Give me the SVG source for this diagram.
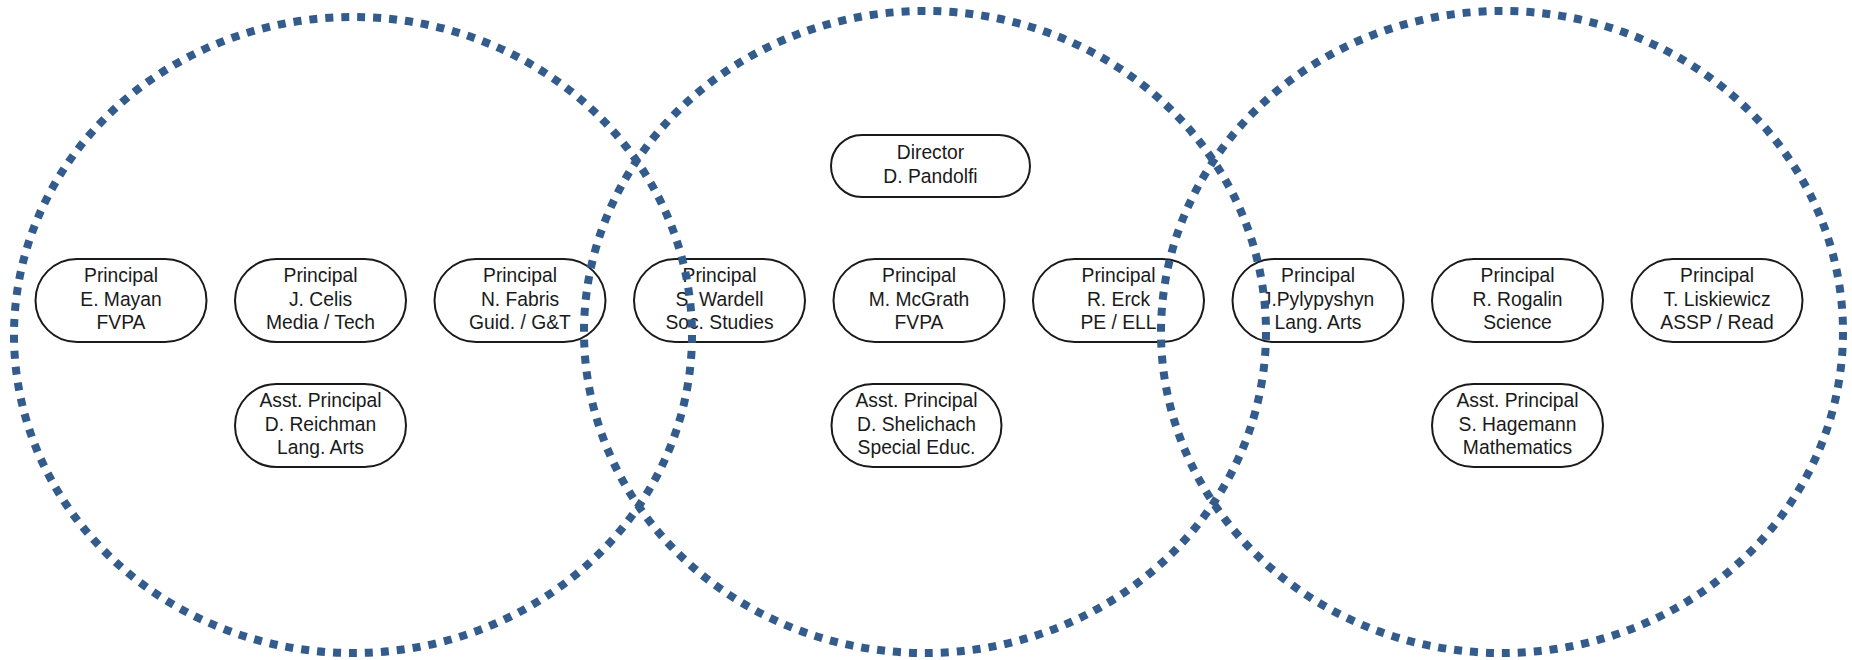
<svg xmlns="http://www.w3.org/2000/svg" width="1852" height="660" viewBox="0 0 1852 660">
<style>
.node rect{fill:none;stroke:#1a1a1a;stroke-width:2}
.node text{font-family:"Liberation Sans",Arial,sans-serif;font-size:19.3px;fill:#1a1a1a;text-anchor:middle}
.ring{fill:none;stroke:#335c8c;stroke-width:8;stroke-dasharray:8 8}
</style>
<rect width="1852" height="660" fill="#ffffff"/>
<g id="nodes">
<g id="director" class="node"><rect x="831" y="135" width="199" height="62" rx="31" ry="31"/><text x="930.5" y="159.3">Director</text><text x="930.5" y="182.8">D. Pandolfi</text></g>
<g id="mayan" class="node"><rect x="35.5" y="259" width="171" height="83" rx="41.5" ry="41.5"/><text x="121" y="282">Principal</text><text x="121" y="305.5">E. Mayan</text><text x="121" y="329">FVPA</text></g>
<g id="celis" class="node"><rect x="235" y="259" width="171" height="83" rx="41.5" ry="41.5"/><text x="320.5" y="282">Principal</text><text x="320.5" y="305.5">J. Celis</text><text x="320.5" y="329">Media / Tech</text></g>
<g id="fabris" class="node"><rect x="434.5" y="259" width="171" height="83" rx="41.5" ry="41.5"/><text x="520" y="282">Principal</text><text x="520" y="305.5">N. Fabris</text><text x="520" y="329">Guid. / G&amp;T</text></g>
<g id="wardell" class="node"><rect x="634" y="259" width="171" height="83" rx="41.5" ry="41.5"/><text x="719.5" y="282">Principal</text><text x="719.5" y="305.5">S. Wardell</text><text x="719.5" y="329">Soc. Studies</text></g>
<g id="mcgrath" class="node"><rect x="833.5" y="259" width="171" height="83" rx="41.5" ry="41.5"/><text x="919" y="282">Principal</text><text x="919" y="305.5">M. McGrath</text><text x="919" y="329">FVPA</text></g>
<g id="erck" class="node"><rect x="1033" y="259" width="171" height="83" rx="41.5" ry="41.5"/><text x="1118.5" y="282">Principal</text><text x="1118.5" y="305.5">R. Erck</text><text x="1118.5" y="329">PE / ELL</text></g>
<g id="pylypyshyn" class="node"><rect x="1232.5" y="259" width="171" height="83" rx="41.5" ry="41.5"/><text x="1318" y="282">Principal</text><text x="1318" y="305.5">J.Pylypyshyn</text><text x="1318" y="329">Lang. Arts</text></g>
<g id="rogalin" class="node"><rect x="1432" y="259" width="171" height="83" rx="41.5" ry="41.5"/><text x="1517.5" y="282">Principal</text><text x="1517.5" y="305.5">R. Rogalin</text><text x="1517.5" y="329">Science</text></g>
<g id="liskiewicz" class="node"><rect x="1631.5" y="259" width="171" height="83" rx="41.5" ry="41.5"/><text x="1717" y="282">Principal</text><text x="1717" y="305.5">T. Liskiewicz</text><text x="1717" y="329">ASSP / Read</text></g>
<g id="reichman" class="node"><rect x="235" y="384" width="171" height="83" rx="41.5" ry="41.5"/><text x="320.5" y="407">Asst. Principal</text><text x="320.5" y="430.5">D. Reichman</text><text x="320.5" y="454">Lang. Arts</text></g>
<g id="shelichach" class="node"><rect x="831.5" y="384" width="170" height="83" rx="41.5" ry="41.5"/><text x="916.5" y="407">Asst. Principal</text><text x="916.5" y="430.5">D. Shelichach</text><text x="916.5" y="454">Special Educ.</text></g>
<g id="hagemann" class="node"><rect x="1432" y="384" width="171" height="83" rx="41.5" ry="41.5"/><text x="1517.5" y="407">Asst. Principal</text><text x="1517.5" y="430.5">S. Hagemann</text><text x="1517.5" y="454">Mathematics</text></g>
</g>
<g id="connectors">
<ellipse class="ring" cx="353" cy="335" rx="339" ry="318"/>
<ellipse class="ring" cx="925" cy="332" rx="341" ry="321"/>
<ellipse class="ring" cx="1502" cy="332" rx="341" ry="321"/>
</g>
</svg>
